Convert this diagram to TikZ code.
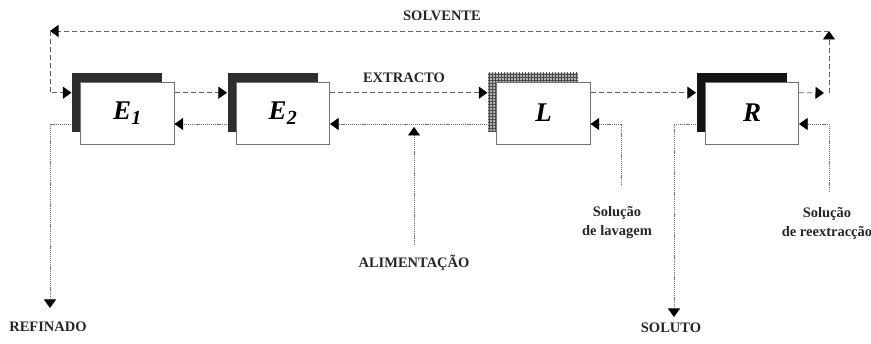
\documentclass[tikz,border=0pt]{standalone}
\usepackage{fontspec}
\setmainfont{Liberation Serif}
\usetikzlibrary{arrows.meta,patterns,backgrounds}
\tikzset{
  stage/.style={draw=black!55, fill=white, line width=0.6pt, minimum width=93.5pt,
    minimum height=62pt, inner sep=0pt,
    font=\fontsize{27}{27}\selectfont\bfseries\itshape},
  shade/.style={minimum width=90pt, minimum height=59pt, inner sep=0pt},
  tip/.style={-{Triangle[length=8.5pt,width=12pt,color=black]}},
  fwd/.style={draw=black!60, line width=0.8pt, dash pattern=on 5pt off 3pt, tip},
  bwd/.style={draw=black!55, line width=0.6pt, dash pattern=on 1.2pt off 0.9pt, tip},
  lbl/.style={font=\fontsize{14.5}{19}\selectfont\bfseries, text=black!85, align=center}
}
\begin{document}
\begin{tikzpicture}[x=1pt,y=-1pt]
\useasboundingbox (0,0) rectangle (871,344);
\node[stage] (E1) at (127.5,113) {E\textsubscript{\fontsize{20}{20}\selectfont 1}};
\node[stage] (E2) at (283,113)   {E\textsubscript{\fontsize{20}{20}\selectfont 2}};
\node[stage] (L)  at (543.5,113) {L};
\node[stage] (R)  at (752,113)   {R};
\begin{scope}[on background layer]
\foreach \b in {E1,E2}
    \node[shade, fill=black!82] (\b s) at ([shift={(-10.5pt,10.5pt)}]\b.center) {};
\node[shade, fill=black!92] (Rs) at ([shift={(-10.5pt,10.5pt)}]R.center) {};
\node[shade, preaction={fill=black!30}, pattern=grid, pattern color=black!70] (Ls)
    at ([shift={(-10.5pt,10.5pt)}]L.center) {};
\end{scope}
\foreach \b in {E1,E2,L,R} {
    \coordinate (\b-in)   at ([shift={(-9pt,-11pt)}]\b.north west);
    \coordinate (\b-out)  at ([yshift=-11pt]\b.north east);
    \coordinate (\b-left) at ([shift={(-9pt,-11pt)}]\b.west);
    \coordinate (\b-back) at ([yshift=-11pt]\b.east);
}
\node[lbl] (solv) at (442,16)  {SOLVENTE};
\node[lbl] (extr) at (404,78)  {EXTRACTO};
\node[lbl] (feed) at (414,263) {ALIMENTAÇÃO};
\node[lbl] (ref)  at (48,327)  {REFINADO};
\node[lbl] (sol)  at (671,328) {SOLUTO};
\node[lbl] (wash) at (617,223) {Solução\\de lavagem};
\node[lbl] (reex) at (827,223) {Solução\\de reextracção};
\coordinate (top right) at (829,31);
\coordinate (top left)  at (50,31);
\coordinate (R-turn)    at (829,93);
\coordinate (ref-tip)   at (50,308);
\coordinate (sol-tip)   at (674,317);
\coordinate (feed-top)  at (414,245);
\coordinate (wash-top)  at (621,185);
\coordinate (reex-top)  at (829,192);
\draw[fwd] (E1-out) -- (E2-in);
\draw[fwd] (E2-out) -- (L-in);
\draw[fwd] (L-out) -- (R-in);
\draw[fwd, shorten >=5pt] (R-out) -- (R-turn);
\draw[fwd] (R-turn) -- (top right);
\draw[fwd] (top right) -- (top left);
\draw[fwd] (top left) |- (E1-in);
\draw[bwd] (E2-left) -- (E1-back);
\draw[bwd] (L-left) -- (E2-back);
\draw[bwd, shorten >=3pt] (feed-top) -- (feed-top |- E2-back);
\draw[bwd] (wash-top) |- (L-back);
\draw[bwd] (reex-top) |- (R-back);
\draw[bwd] (E1-left) -| (ref-tip);
\draw[bwd] (R-left) -| (sol-tip);
\end{tikzpicture}
\end{document}
